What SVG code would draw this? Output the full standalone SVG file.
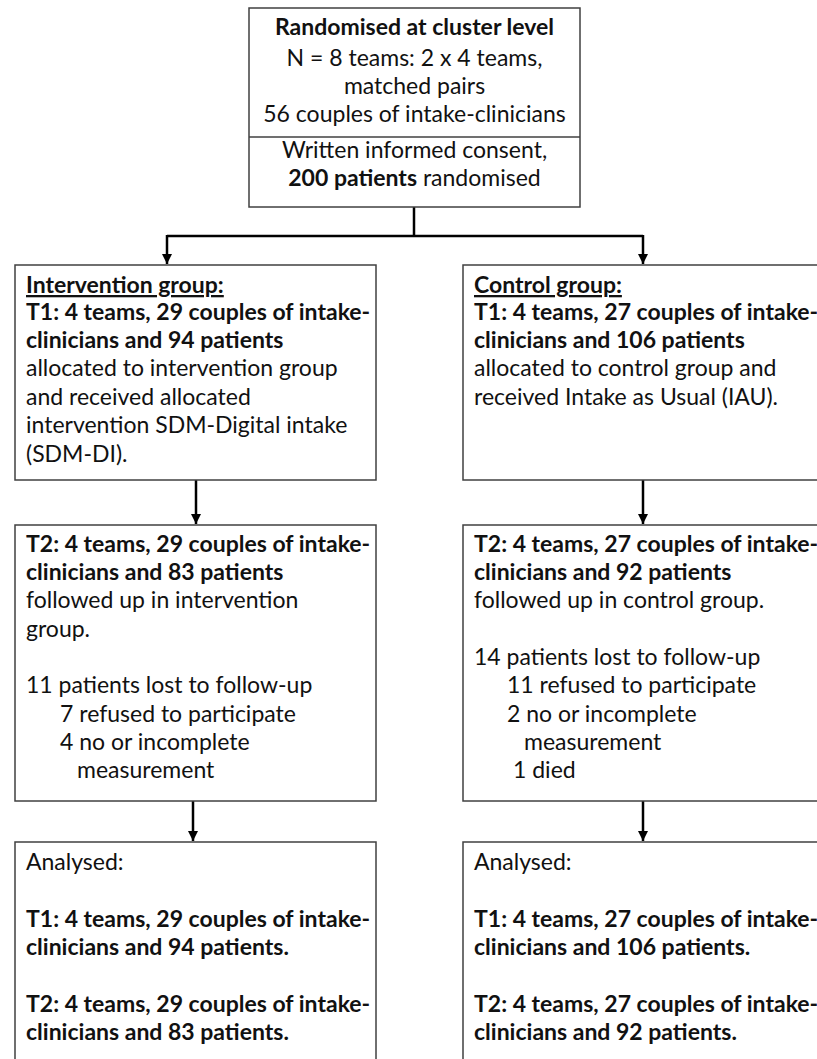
<svg xmlns="http://www.w3.org/2000/svg" width="817" height="1059" viewBox="0 0 817 1059">
<defs>
<style>
.t{font-family:Lato,"Open Sans","Liberation Sans",sans-serif;font-size:23px;fill:#111}
.c{text-anchor:middle}
.b{font-weight:bold}
.u{text-decoration:underline}
.box{fill:#fff;stroke:#404040;stroke-width:1.5}
.conn{stroke:#000;stroke-width:2.5;fill:none}
</style>
<marker id="ah" markerUnits="userSpaceOnUse" markerWidth="10" markerHeight="11" refX="10" refY="5" orient="auto">
<path d="M0,0 L10,5 L0,10 z" fill="#000"/>
</marker>
</defs>
<rect width="817" height="1059" fill="#fff"/>
<g id="connectors">
<polyline class="conn" points="414,207 414,236"/>
<polyline class="conn" points="167,236 643,236"/>
<line class="conn" x1="167" y1="235" x2="167" y2="264" marker-end="url(#ah)"/>
<line class="conn" x1="643" y1="235" x2="643" y2="264" marker-end="url(#ah)"/>
<line class="conn" x1="196" y1="480" x2="196" y2="524" marker-end="url(#ah)"/>
<line class="conn" x1="643" y1="480" x2="643" y2="524" marker-end="url(#ah)"/>
<line class="conn" x1="193" y1="801" x2="193" y2="841" marker-end="url(#ah)"/>
<line class="conn" x1="643" y1="801" x2="643" y2="841" marker-end="url(#ah)"/>
</g>
<g id="randomised">
<rect class="box" x="249" y="8" width="331" height="199"/>
<line x1="249" y1="137" x2="580" y2="137" stroke="#404040" stroke-width="1.5"/>
<text class="t c b" x="414.5" y="35">Randomised at cluster level</text>
<text class="t c" x="414.5" y="66">N = 8 teams: 2 x 4 teams,</text>
<text class="t c" x="414.5" y="94">matched pairs</text>
<text class="t c" x="414.5" y="122">56 couples of intake-clinicians</text>
<text class="t c" x="414.5" y="158">Written informed consent,</text>
<text class="t c" x="414.5" y="186"><tspan class="b">200 patients</tspan> randomised</text>
</g>
<g id="intervention-t1">
<rect class="box" x="15" y="265" width="361" height="215"/>
<text class="t b u" x="26" y="293">Intervention group:</text>
<text class="t b" x="26" y="320">T1: 4 teams, 29 couples of intake-</text>
<text class="t b" x="26" y="348">clinicians and 94 patients</text>
<text class="t" x="26" y="376">allocated to intervention group</text>
<text class="t" x="26" y="405">and received allocated</text>
<text class="t" x="26" y="433">intervention SDM-Digital intake</text>
<text class="t" x="26" y="462">(SDM-DI).</text>
</g>
<g id="control-t1">
<rect class="box" x="463" y="265" width="370" height="215"/>
<text class="t b u" x="474" y="293">Control group:</text>
<text class="t b" x="474" y="320">T1: 4 teams, 27 couples of intake-</text>
<text class="t b" x="474" y="348">clinicians and 106 patients</text>
<text class="t" x="474" y="376">allocated to control group and</text>
<text class="t" x="474" y="405">received Intake as Usual (IAU).</text>
</g>
<g id="intervention-t2">
<rect class="box" x="15" y="525" width="361" height="276"/>
<text class="t b" x="26" y="552">T2: 4 teams, 29 couples of intake-</text>
<text class="t b" x="26" y="580">clinicians and 83 patients</text>
<text class="t" x="26" y="608">followed up in intervention</text>
<text class="t" x="26" y="637">group.</text>
<text class="t" x="26" y="693">11 patients lost to follow-up</text>
<text class="t" x="60" y="722">7 refused to participate</text>
<text class="t" x="60" y="750">4 no or incomplete</text>
<text class="t" x="77" y="778">measurement</text>
</g>
<g id="control-t2">
<rect class="box" x="463" y="525" width="370" height="276"/>
<text class="t b" x="474" y="552">T2: 4 teams, 27 couples of intake-</text>
<text class="t b" x="474" y="580">clinicians and 92 patients</text>
<text class="t" x="474" y="608">followed up in control group.</text>
<text class="t" x="474" y="665">14 patients lost to follow-up</text>
<text class="t" x="507" y="693">11 refused to participate</text>
<text class="t" x="507" y="722">2 no or incomplete</text>
<text class="t" x="524" y="750">measurement</text>
<text class="t" x="513" y="778">1 died</text>
</g>
<g id="intervention-analysed">
<rect class="box" x="15" y="842" width="361" height="240"/>
<text class="t" x="26" y="870">Analysed:</text>
<text class="t b" x="26" y="927">T1: 4 teams, 29 couples of intake-</text>
<text class="t b" x="26" y="955">clinicians and 94 patients.</text>
<text class="t b" x="26" y="1012">T2: 4 teams, 29 couples of intake-</text>
<text class="t b" x="26" y="1040">clinicians and 83 patients.</text>
</g>
<g id="control-analysed">
<rect class="box" x="463" y="842" width="370" height="240"/>
<text class="t" x="474" y="870">Analysed:</text>
<text class="t b" x="474" y="927">T1: 4 teams, 27 couples of intake-</text>
<text class="t b" x="474" y="955">clinicians and 106 patients.</text>
<text class="t b" x="474" y="1012">T2: 4 teams, 27 couples of intake-</text>
<text class="t b" x="474" y="1040">clinicians and 92 patients.</text>
</g>
</svg>
